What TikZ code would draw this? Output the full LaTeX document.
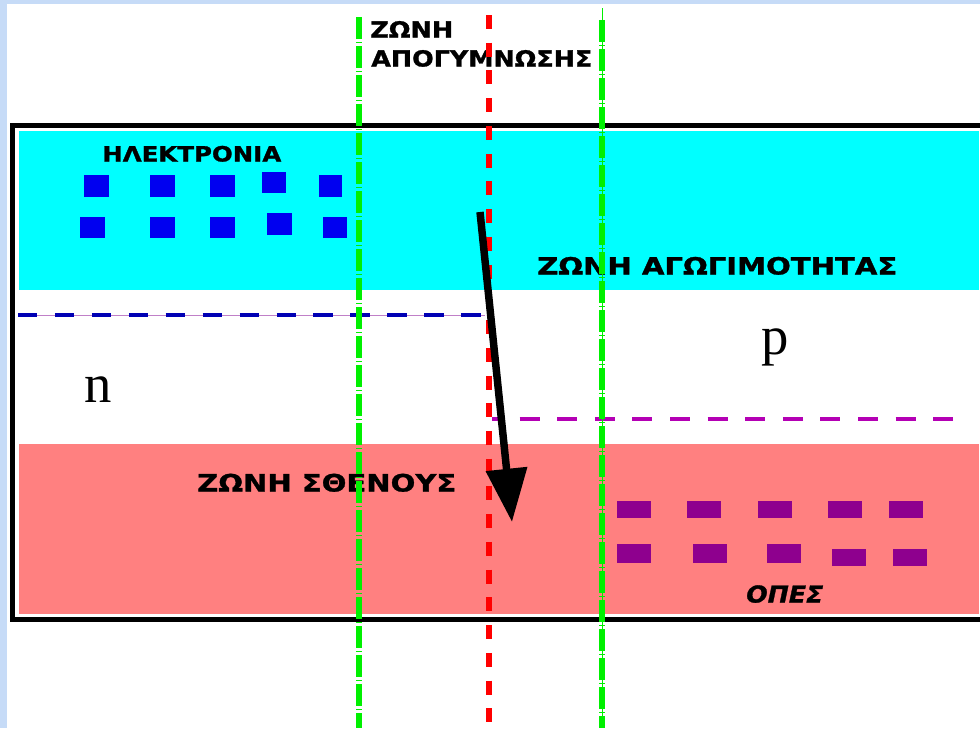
\documentclass[tikz,border=0pt]{standalone}
\usepackage{fontspec}
\setmainfont{Liberation Serif}
\newfontfamily\bandfont{DejaVu Sans Bold}[FakeBold=1.2,ItalicFont={DejaVu Sans Bold Oblique},ItalicFeatures={FakeBold=1.2}]
\usetikzlibrary{arrows.meta}

\definecolor{skyedge}{HTML}{C6DBF7}
\definecolor{bandcyan}{HTML}{00FFFF}
\definecolor{bandsalmon}{HTML}{FF8080}
\definecolor{electron}{HTML}{0000F0}
\definecolor{hole}{HTML}{8E008E}
\definecolor{edgegreen}{HTML}{00F000}
\definecolor{fermin}{HTML}{0000B4}
\definecolor{fermip}{HTML}{B400B4}
\definecolor{fermiguide}{HTML}{C080C8}

% stretch a label horizontally to a given width, keeping its height
\newcommand\widthto[2]{\resizebox{#1}{\height}{#2}}

\tikzset{
  bandlabel/.style={inner sep=0pt, anchor=base west},
  typelabel/.style={inner sep=0pt, anchor=base west, font=\fontsize{41}{41}\selectfont},
  junctionedge/.style={edgegreen, line width=4.5pt,
    dash pattern=on 16.5pt off 2.25pt on 0.75pt off 2.25pt},
  junctionmid/.style={red, line width=4.5pt, dash pattern=on 10.5pt off 10.3pt},
  fermilevel/.style={line width=3pt},
  jumparrow/.style={line width=5.6pt, -{Triangle[length=40pt,width=30pt]}},
  electronbox/.style={fill=electron},
  holebox/.style={fill=hole},
}

\begin{document}
\begin{tikzpicture}[x=0.75pt, y=-0.75pt]
  \clip (0,0) rectangle (980,728);

  % backdrop
  \fill[skyedge] (0,0) rectangle (980,728);
  \fill[white] (7,4) rectangle (980,728);

  % energy bands
  \fill[bandcyan] (19,131) rectangle (979,290);
  \fill[bandsalmon] (19,444) rectangle (979,614);

  % crystal outline
  \draw[line width=3.75pt] (1000,125.5) -- (12.5,125.5) -- (12.5,619.5) -- (1000,619.5);

  % Fermi levels
  \draw[fermiguide, line width=0.75pt] (19,315) -- (485,315);
  \draw[fermilevel, fermin, dash pattern=on 14.6pt off 13.1pt] (18,315) -- (485,315);
  \draw[fermilevel, fermip, dash pattern=on 15pt off 13.2pt, dash phase=7.5pt] (492,419) -- (965,419);

  % free electrons
  \foreach \x/\y/\w/\h in {84/175/25/22, 150/175/25/22, 210/175/25/22, 262/172/24/21, 319/175/23/22,
                           80/217/25/21, 150/217/25/21, 210/217/25/21, 267/213/25/22, 323/217/24/21}
    \fill[electronbox] (\x,\y) rectangle ++(\w,\h);

  % holes
  \foreach \x/\y/\w/\h in {617/501/34/17, 687/501/34/17, 758/501/34/17, 828/501/34/17, 889/501/34/17,
                           617/544/34/19, 693/544/34/19, 767/544/34/19, 832/549/34/17, 893/549/34/17}
    \fill[holebox] (\x,\y) rectangle ++(\w,\h);

  % labels
  \node[bandlabel, font=\bandfont\fontsize{16.6}{17}\selectfont] (zonetitle) at (370,37.5) {\widthto{62.25pt}{ΖΩΝΗ}};
  \node[bandlabel, font=\bandfont\fontsize{16.6}{17}\selectfont] (depletion) at (371,66.5) {\widthto{165.75pt}{ΑΠΟΓΥΜΝΩΣΗΣ}};
  \node[bandlabel, font=\bandfont\fontsize{15.8}{16}\selectfont] (electrons) at (102,161.5) {\widthto{134.25pt}{ΗΛΕΚΤΡΟΝΙΑ}};
  \node[bandlabel, font=\bandfont\fontsize{17.8}{18}\selectfont] (conduction) at (537,274.5) {\widthto{270pt}{ΖΩΝΗ ΑΓΩΓΙΜΟΤΗΤΑΣ}};
  \node[bandlabel, font=\bandfont\fontsize{18}{19}\selectfont] (valence) at (197,491.5) {\widthto{194.25pt}{ΖΩΝΗ ΣΘΕΝΟΥΣ}};
  \node[bandlabel, font=\bandfont\itshape\fontsize{17.4}{18}\selectfont] (holes) at (746,602.5) {\widthto{57.75pt}{ΟΠΕΣ}};
  \node[typelabel] (ntype) at (84,402) {n};
  \node[typelabel] (ptype) at (761,354) {p};

  % junction boundaries
  \draw[junctionedge] (359,17) -- (359,728);
  \draw[edgegreen, line width=0.75pt] (602,8) -- (602,728);
  \draw[junctionedge] (602,20) -- (602,728);
  \draw[junctionmid] (488.5,15) -- (488.5,728);

  % band-to-band transition
  \coordinate (jumpstart) at (480,212);
  \coordinate (jumpend) at (512,522);
  \draw[jumparrow] (jumpstart) -- (jumpend);
\end{tikzpicture}
\end{document}
